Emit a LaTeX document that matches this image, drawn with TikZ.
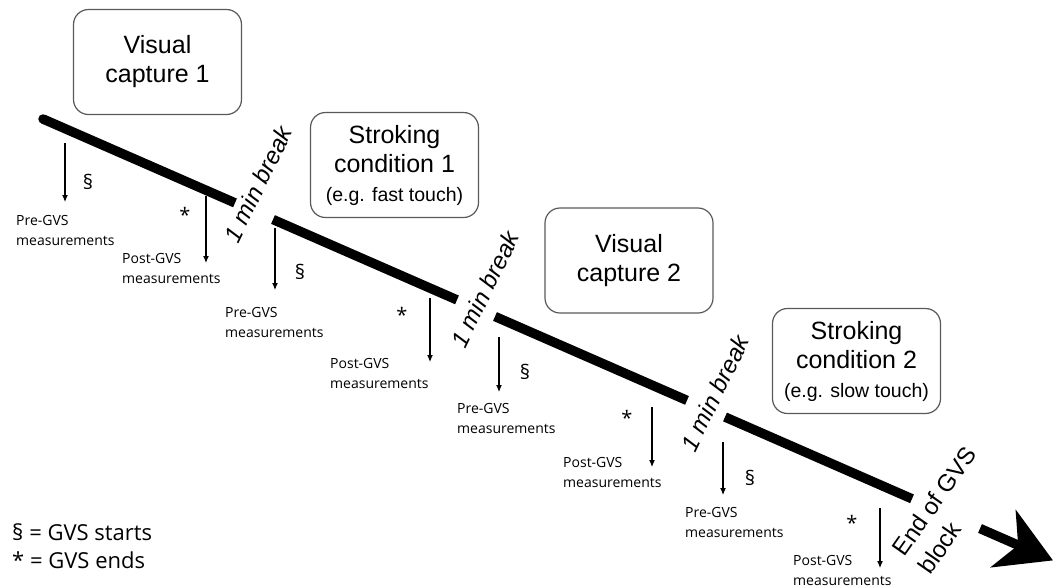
\documentclass[tikz,border=0pt]{standalone}
\usepackage{fontspec}
\setmainfont{Liberation Sans}
\newfontfamily\labelfont{Open Sans}
\usetikzlibrary{arrows.meta, calc}

\tikzset{
	stage/.style={draw=black!65, line width=1.2pt, rounded corners=15pt, minimum width=168pt, minimum height=105pt, align=center, font=\fontsize{25}{29}\selectfont},
	brk/.style={rotate=64, inner sep=0pt, font=\fontsize{24}{28}\selectfont\itshape},
	meas/.style={anchor=west, align=left, inner sep=0pt, font=\labelfont\fontsize{14}{20}\selectfont},
	sym/.style={inner sep=0pt, font=\labelfont\fontsize{20}{24}\selectfont},
	timeline/.style={line width=9.5pt},
	down/.style={-{Latex[length=7pt, width=6pt]}, line width=1.1pt},
}
\newcommand{\smalltext}{\fontsize{19.5}{24}\selectfont}

\begin{document}
\begin{tikzpicture}[x=1pt, y=-1pt]
	\useasboundingbox (0,0) rectangle (1053,587);
		% stages of the block
		\node[stage] (cap1)  at (157.5, 62)  {Visual\\capture 1};
		\node[stage] (strk1) at (394.5,165)  {Stroking\\condition 1\\{\smalltext (e.g. fast touch)}};
		\node[stage] (cap2)  at (629,260.5)  {Visual\\capture 2};
		\node[stage] (strk2) at (856.5,361)  {Stroking\\condition 2\\{\smalltext (e.g. slow touch)}};

		% time line, cut at the breaks
		\coordinate (t0)   at (  43,119);
		\coordinate (b1a)  at ( 235,202.9);
		\coordinate (b1b)  at ( 273,219.5);
		\coordinate (b2a)  at ( 457,299.9);
		\coordinate (b2b)  at ( 495,316.5);
		\coordinate (b3a)  at ( 687,400.4);
		\coordinate (b3b)  at ( 725,417);
		\coordinate (endA) at ( 912,498.8);
		\coordinate (endB) at ( 980,528.5);
		\coordinate (tip)  at (1053,560.4);
		\fill (t0) circle (4.75);
		\draw[timeline] (t0) -- (b1a);
		\draw[timeline] (b1b) -- (b2a);
		\draw[timeline] (b2b) -- (b3a);
		\draw[timeline] (b3b) -- (endA);
		\draw[timeline, -{Stealth[length=54pt, width=62pt, inset=16pt]}] (endB) -- (tip);

		% breaks
		\node[brk] (brk1) at (258,184) {1 min break};
		\node[brk] (brk2) at (485,289) {1 min break};
		\node[brk] (brk3) at (715,393) {1 min break};
		\node[rotate=55, align=left, inner sep=0pt, font=\fontsize{24}{31}\selectfont] (blockend) at (947,510) {End of GVS\\block};

		% measurements
		\node[meas] (pre1)  at ( 16,230) {Pre-GVS\\measurements};
		\node[meas] (post1) at (122,268) {Post-GVS\\measurements};
		\node[meas] (pre2)  at (225,322) {Pre-GVS\\measurements};
		\node[meas] (post2) at (330,373) {Post-GVS\\measurements};
		\node[meas] (pre3)  at (457,418) {Pre-GVS\\measurements};
		\node[meas] (post3) at (563,472) {Post-GVS\\measurements};
		\node[meas] (pre4)  at (685,522) {Pre-GVS\\measurements};
		\node[meas] (post4) at (793,570) {Post-GVS\\measurements};

		% arrows down to the measurements
		\coordinate (a1) at ( 65,143); \coordinate (e1) at ( 65,202);
		\coordinate (a2) at (206,196); \coordinate (e2) at (206,263);
		\coordinate (a3) at (275,228); \coordinate (e3) at (275,290);
		\coordinate (a4) at (430,298); \coordinate (e4) at (430,362);
		\coordinate (a5) at (499,337); \coordinate (e5) at (499,392);
		\coordinate (a6) at (652,407); \coordinate (e6) at (652,467);
		\coordinate (a7) at (723,442); \coordinate (e7) at (723,495);
		\coordinate (a8) at (880,508); \coordinate (e8) at (880,568);
		\foreach \i in {1,...,8} {
			\draw[down] (a\i) -- (e\i);
		};
		\node[sym] (s1) at ( 88,182) {§};
		\node[sym] (s2) at (185,215) {*};
		\node[sym] (s3) at (300,272) {§};
		\node[sym] (s4) at (402,315) {*};
		\node[sym] (s5) at (525,372) {§};
		\node[sym] (s6) at (627,418) {*};
		\node[sym] (s7) at (750,478) {§};
		\node[sym] (s8) at (852,523) {*};

		% legend
		\node[anchor=west, align=left, inner sep=0pt, font=\labelfont\fontsize{22}{28}\selectfont] (legend) at (12,546) {§ = GVS starts\\* = GVS ends};
\end{tikzpicture}
\end{document}
